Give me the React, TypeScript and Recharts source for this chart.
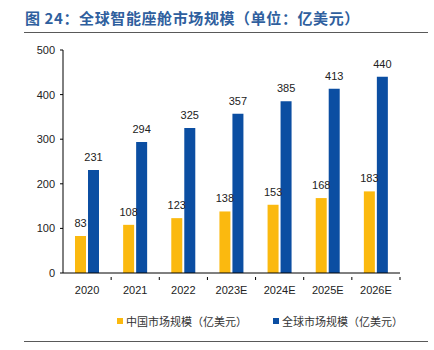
import React from "react";
import { BarChart, Bar, XAxis, YAxis, LabelList } from "recharts";

const years = ["2020", "2021", "2022", "2023E", "2024E", "2025E", "2026E"];
const chinaMarket = [83, 108, 123, 138, 153, 168, 183];
const globalMarket = [231, 294, 325, 357, 385, 413, 440];
const yTicks = [0, 100, 200, 300, 400, 500];

const YELLOW = "#fbb90f";
const BLUE = "#0b4ea2";
const LINE = "#595959";
const FONT = "'Liberation Sans', Arial, sans-serif";
const CJK = "'Noto Sans CJK SC', sans-serif";

const seriesNames = ["中国市场规模（亿美元）", "全球市场规模（亿美元）"];

const data = years.map((year, i) => ({
  year,
  china: chinaMarket[i],
  global: globalMarket[i],
}));

function YearTick(props: any) {
  const { x, y, payload } = props;
  const half = payload && payload.offset ? payload.offset : 24;
  return (
    <g>
      <line x1={x + half} x2={x + half} y1={y - 4} y2={y - 1} stroke="#000" strokeWidth={1} />
      <text x={x} y={y + 13} textAnchor="middle" fontSize={11} fontFamily={FONT} fill="#222">
        {payload.value}
      </text>
    </g>
  );
}

export default function App() {
  const legendItems = [
    { name: seriesNames[0], color: YELLOW },
    { name: seriesNames[1], color: BLUE },
  ];
  return (
    <div style={{ position: "absolute", left: 0, top: 0, width: 434, height: 350, background: "#fff", overflow: "hidden" }}>
      <div
        style={{
          position: "absolute",
          left: 25,
          top: 7,
          fontFamily: CJK,
          fontWeight: 700,
          fontSize: 15,
          letterSpacing: 0.6,
          color: "#2f5f9e",
          whiteSpace: "nowrap",
        }}
      >
        图 24：全球智能座舱市场规模（单位：亿美元）
      </div>
      <div style={{ position: "absolute", left: 24, top: 32, width: 404, height: 1, background: LINE }} />
      <div style={{ position: "absolute", left: 24, top: 341, width: 404, height: 1, background: LINE }} />
      <div
        style={{
          position: "absolute",
          top: 313,
          left: 117,
          display: "flex",
          gap: 26,
          fontFamily: CJK,
          fontSize: 11,
          letterSpacing: 0,
          color: "#333",
          whiteSpace: "nowrap",
        }}
      >
        {legendItems.map((it) => (
          <div key={it.name} style={{ display: "flex", alignItems: "center" }}>
            <span style={{ display: "inline-block", width: 6, height: 6, background: it.color, marginRight: 3 }} />
            <span>{it.name}</span>
          </div>
        ))}
      </div>
      <div style={{ position: "absolute", left: 0, top: 0 }}>
        <BarChart
          width={434}
          height={350}
          data={data}
          margin={{ top: 50, right: 34, bottom: 47, left: 23 }}
          barGap={2}
          barCategoryGap="24%"
        >
          <XAxis
            dataKey="year"
            tickLine={false}
            axisLine={{ stroke: "#000" }}
            tick={<YearTick />}
            interval={0}
          />
          <YAxis
            domain={[0, 500]}
            ticks={yTicks}
            width={40}
            tickSize={3}
            tickLine={{ stroke: "#000" }}
            axisLine={{ stroke: "#000" }}
            tick={{ fontSize: 11, fontFamily: FONT, fill: "#222" }}
            tickMargin={5}
          />
          <Bar dataKey="china" name={seriesNames[0]} fill={YELLOW} barSize={11} isAnimationActive={false}>
            <LabelList dataKey="china" position="top" offset={9} fontSize={11} fontFamily={FONT} fill="#222" />
          </Bar>
          <Bar dataKey="global" name={seriesNames[1]} fill={BLUE} barSize={11} isAnimationActive={false}>
            <LabelList dataKey="global" position="top" offset={9} fontSize={11} fontFamily={FONT} fill="#222" />
          </Bar>
        </BarChart>
      </div>
    </div>
  );
}
